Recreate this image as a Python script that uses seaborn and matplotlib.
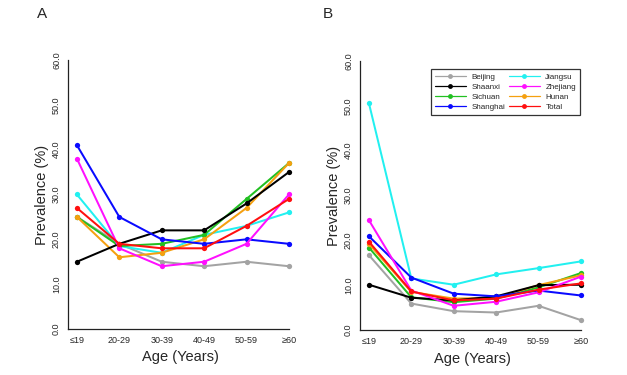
import pandas as pd
import matplotlib.pyplot as plt
from matplotlib.lines import Line2D
import seaborn as sns

ages = ['≤19', '20-29', '30-39', '40-49', '50-59', '≥60']
regions = ['Beijing', 'Shaanxi', 'Sichuan', 'Shanghai', 'Jiangsu', 'Zhejiang', 'Hunan', 'Total']
colors = ['#a3a3a3', '#000000', '#22c022', '#0a0aff', '#22f0f0', '#ff10ff', '#f5a010', '#ff0f0f']

# panel A
a_beijing = [25, 19, 15, 14, 15, 14]
a_shaanxi = [15, 19, 22, 22, 28, 35]
a_sichuan = [25, 18.5, 19, 21, 29, 37]
a_shanghai = [41, 25, 20, 19, 20, 19]
a_jiangsu = [30, 18.5, 17, 21, 23, 26]
a_zhejiang = [38, 18, 14, 15, 19, 30]
a_hunan = [25, 16, 17, 20, 27, 37]
a_total = [27, 19, 18, 18, 23, 29]

# panel B
b_beijing = [16.7, 5.9, 4.2, 3.9, 5.4, 2.2]
b_shaanxi = [10.1, 7.2, 6.6, 7.5, 10.0, 10.1]
b_sichuan = [18.4, 7.3, 6.2, 7.0, 9.5, 12.7]
b_shanghai = [20.9, 11.7, 8.1, 7.5, 8.8, 7.7]
b_jiangsu = [50.6, 11.5, 10.1, 12.4, 13.8, 15.3]
b_zhejiang = [24.5, 8.8, 5.4, 6.3, 8.4, 11.9]
b_hunan = [19.2, 8.5, 7.0, 7.2, 10.0, 12.2]
b_total = [19.7, 8.6, 6.6, 7.0, 9.0, 10.4]

panel_a = [a_beijing, a_shaanxi, a_sichuan, a_shanghai, a_jiangsu, a_zhejiang, a_hunan, a_total]
panel_b = [b_beijing, b_shaanxi, b_sichuan, b_shanghai, b_jiangsu, b_zhejiang, b_hunan, b_total]

# plot order (drawn later = on top)
draw_order = ['Beijing', 'Jiangsu', 'Sichuan', 'Hunan', 'Shaanxi', 'Shanghai', 'Zhejiang', 'Total']


def to_long(series):
    rows = []
    for name, vals in zip(regions, series):
        for i, v in enumerate(vals):
            rows.append({'region': name, 'age': i, 'prev': v})
    return pd.DataFrame(rows)


sns.set_style('white')
plt.rcParams['font.family'] = ['Liberation Sans', 'DejaVu Sans']

palette = dict(zip(regions, colors))
fig = plt.figure(figsize=(6.27, 3.75), dpi=100)
W, H = 627, 375


def make_axes(left_px, bottom_px, top_px):
    return fig.add_axes([left_px / W, (H - bottom_px) / H,
                         (5.31 * 42.4) / W, (bottom_px - top_px) / H])


ax_a = make_axes(68, 329, 60)
ax_b = make_axes(360, 330, 61)

for ax, data in [(ax_a, panel_a), (ax_b, panel_b)]:
    df = to_long(data)
    sns.lineplot(data=df, x='age', y='prev', hue='region', hue_order=draw_order,
                 palette=palette, marker='o', markersize=3.8, markeredgewidth=0,
                 linewidth=1.45, legend=False, ax=ax, sort=False)
    ax.set_xlim(-0.21, 5.1)
    ax.set_ylim(0, 60)
    ax.set_xticks(range(6))
    ax.set_xticklabels(ages, fontsize=6.5)
    ax.set_yticks([0, 10, 20, 30, 40, 50, 60])
    ax.set_yticklabels(['0.0', '10.0', '20.0', '30.0', '40.0', '50.0', '60.0'],
                       fontsize=6.5, rotation=90, va='center')
    ax.tick_params(length=3, width=0.8, pad=2, color='#333333')
    for s in ['top', 'right']:
        ax.spines[s].set_visible(False)
    ax.spines['left'].set_color('#222222')
    ax.spines['bottom'].set_color('#222222')
    ax.spines['left'].set_linewidth(0.9)
    ax.spines['bottom'].set_linewidth(0.9)
    ax.spines['bottom'].set_bounds(-0.21, 5)
    ax.set_xlabel('Age (Years)', fontsize=10.5, labelpad=4)
    ax.set_ylabel('Prevalence (%)', fontsize=10.5, labelpad=2)
    ax.grid(False)

fig.text(37 / W, 1 - 14 / H, 'A', fontsize=11, va='center')
fig.text(323 / W, 1 - 14 / H, 'B', fontsize=11, va='center')

handles = [Line2D([], [], color=c, marker='o', markersize=3.5, markeredgewidth=0, linewidth=0.9)
           for c in colors]
leg = ax_b.legend(handles, regions, ncol=2, loc='upper right', bbox_to_anchor=(0.995, 0.985),
                  fontsize=5.8, handlelength=3.8, frameon=True, fancybox=False,
                  edgecolor='black', borderpad=0.5, labelspacing=0.3, columnspacing=0.5,
                  handletextpad=0.7)
leg.get_frame().set_linewidth(0.9)

fig.savefig('out.png', dpi=100)
